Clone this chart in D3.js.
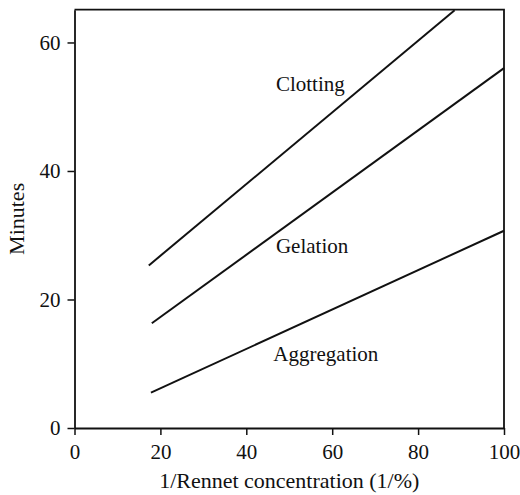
<!DOCTYPE html>
<html><head><meta charset="utf-8">
<script src="https://cdn.jsdelivr.net/npm/d3@7"></script>
<style>body{margin:0;background:#fff}svg{display:block}text{font-family:"Liberation Serif",serif;fill:#111}</style>
</head><body>
<svg id="c" width="520" height="495"></svg>
<script>
const xTicks = [0, 20, 40, 60, 80, 100];
const yTicks = [0, 20, 40, 60];
const seriesNames = ["Clotting", "Gelation", "Aggregation"];
const clotting = [[17.3, 25.3], [88.5, 65]];
const gelation = [[18.0, 16.3], [100, 56.0]];
const aggregation = [[17.8, 5.5], [100, 30.7]];
const labelPos = [[46.9, 52.5], [46.9, 27.3], [46.3, 10.4]];
const xTitle = "1/Rennet concentration (1/%)";
const yTitle = "Minutes";

const svg = d3.select("#c");
const m = {l: 74.5, r: 504, t: 9.7, b: 428};
const x = d3.scaleLinear().domain([0, 100]).range([m.l, m.r]);
const y = d3.scaleLinear().domain([0, 65.1]).range([m.b, m.t]);
const fs = 21;

// frame (top & right)
svg.append("path").attr("d", `M${m.l},${m.t}H${m.r}V${m.b}`).attr("fill", "none").attr("stroke", "#111").attr("stroke-width", 1.8);

const xa = svg.append("g").attr("transform", `translate(0,${m.b})`)
  .call(d3.axisBottom(x).tickValues(xTicks).tickSize(7).tickPadding(9).tickSizeOuter(0));
const ya = svg.append("g").attr("transform", `translate(${m.l},0)`)
  .call(d3.axisLeft(y).tickValues(yTicks).tickSize(7).tickPadding(7).tickSizeOuter(0));
[xa, ya].forEach(a => {
  a.select(".domain").attr("stroke", "#111").attr("stroke-width", 1.8);
  a.selectAll(".tick line").attr("stroke", "#111").attr("stroke-width", 1.5);
  a.selectAll(".tick text").attr("font-family", "Liberation Serif").attr("font-size", fs).attr("fill", "#111");
});

const line = d3.line().x(d => x(d[0])).y(d => y(d[1]));
[clotting, gelation, aggregation].forEach(s => {
  svg.append("path").datum(s).attr("d", line).attr("fill", "none").attr("stroke", "#111").attr("stroke-width", 2);
});

seriesNames.forEach((n, i) => {
  svg.append("text").attr("x", x(labelPos[i][0])).attr("y", y(labelPos[i][1])).attr("font-size", fs).text(n);
});

svg.append("text").attr("x", (m.l + m.r) / 2).attr("y", 488).attr("text-anchor", "middle").attr("font-size", 22).text(xTitle);
svg.append("text").attr("transform", `translate(24,${(m.t + m.b) / 2}) rotate(-90)`).attr("text-anchor", "middle").attr("font-size", 22).text(yTitle);
</script>
</body></html>
